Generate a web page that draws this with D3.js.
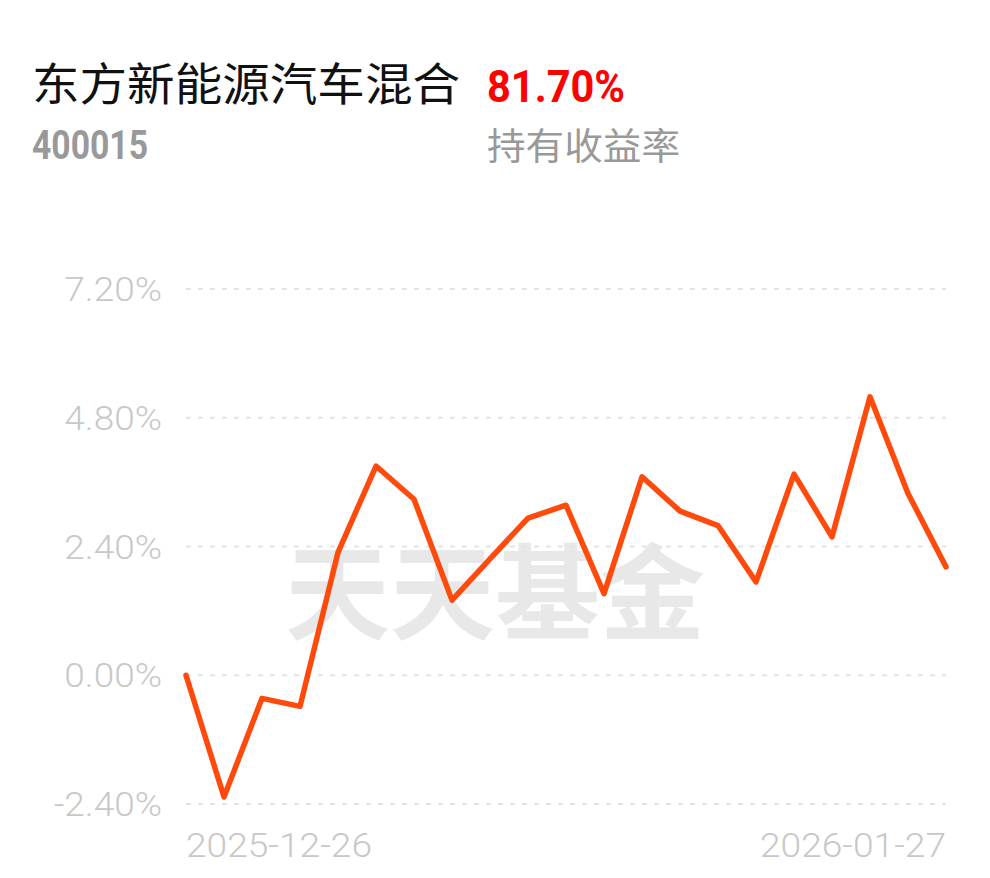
<!DOCTYPE html>
<html>
<head>
<meta charset="utf-8">
<script src="https://cdn.jsdelivr.net/npm/d3@7"></script>
<style>
  body { margin: 0; background: #fff; }
  svg { display: block; }
</style>
</head>
<body>
<div id="chart"></div>
<script>
// fund info
const fundName = "东方新能源汽车混合";
const fundCode = "400015";
const holdReturn = "81.70%";
const holdLabel = "持有收益率";

// trading days shown on the chart
const dates = ["2025-12-26", "2025-12-29", "2025-12-30", "2025-12-31", "2026-01-05",
  "2026-01-06", "2026-01-07", "2026-01-08", "2026-01-09", "2026-01-12",
  "2026-01-13", "2026-01-14", "2026-01-15", "2026-01-16", "2026-01-19",
  "2026-01-20", "2026-01-21", "2026-01-22", "2026-01-23", "2026-01-26", "2026-01-27"];

// cumulative return in %
const returns = [0.00, -2.27, -0.43, -0.58, 2.29, 3.90, 3.28, 1.40, 2.17, 2.93,
  3.17, 1.52, 3.70, 3.06, 2.79, 1.74, 3.75, 2.58, 5.19, 3.39, 2.02];

const yTicks = [-2.4, 0, 2.4, 4.8, 7.2];
const xLabels = ["2025-12-26", "2026-01-27"];

const width = 990, height = 878;
const margin = {top: 289, right: 44, bottom: 74, left: 186};

var svg = d3.select("#chart")
  .append("svg")
    .attr("width", width)
    .attr("height", height);

// header
svg.append("text")
  .attr("x", 32).attr("y", 101)
  .attr("textLength", 428).attr("lengthAdjust", "spacingAndGlyphs")
  .style("font-family", "Noto Sans CJK SC")
  .style("font-size", "45px")
  .style("fill", "#111")
  .text(fundName);

svg.append("text")
  .attr("x", 487).attr("y", 102)
  .attr("textLength", 138).attr("lengthAdjust", "spacingAndGlyphs")
  .style("font-family", "Roboto")
  .style("font-weight", 700)
  .style("font-size", "45px")
  .style("fill", "#f00")
  .text(holdReturn);

svg.append("text")
  .attr("x", 32).attr("y", 159)
  .attr("textLength", 116).attr("lengthAdjust", "spacingAndGlyphs")
  .style("font-family", "Roboto")
  .style("font-weight", 700)
  .style("font-size", "41px")
  .style("fill", "#999")
  .text(fundCode);

svg.append("text")
  .attr("x", 487).attr("y", 160)
  .attr("textLength", 193).attr("lengthAdjust", "spacingAndGlyphs")
  .style("font-family", "Noto Sans CJK SC")
  .style("font-size", "37px")
  .style("fill", "#999")
  .text(holdLabel);

// scales
var x = d3.scalePoint()
  .domain(dates)
  .range([margin.left, width - margin.right]);

var y = d3.scaleLinear()
  .domain([-2.4, 7.2])
  .range([height - margin.bottom, margin.top]);

// watermark
svg.append("text")
  .attr("x", 495).attr("y", 632)
  .attr("text-anchor", "middle")
  .attr("textLength", 420).attr("lengthAdjust", "spacingAndGlyphs")
  .style("font-family", "Noto Sans CJK SC")
  .style("font-weight", 700)
  .style("font-size", "104px")
  .style("fill", "#e8e8e8")
  .text("天天基金");

// grid lines
svg.append("g")
  .selectAll("line")
  .data(yTicks)
  .enter()
  .append("line")
    .attr("x1", margin.left)
    .attr("x2", width - margin.right)
    .attr("y1", function(d) { return y(d); })
    .attr("y2", function(d) { return y(d); })
    .attr("stroke", "#e4e4e4")
    .attr("stroke-width", 2)
    .attr("stroke-dasharray", "5,7");

// y labels (font is wider than Roboto, so stretch a bit)
svg.append("g")
  .selectAll("text")
  .data(yTicks)
  .enter()
  .append("text")
    .attr("x", 162)
    .attr("y", function(d) { return y(d) + 12; })
    .attr("text-anchor", "end")
    .style("font-family", "Roboto")
    .style("font-weight", 300)
    .style("font-size", "33px")
    .style("fill", "#c8c8c8")
    .text(function(d) { return d.toFixed(2) + "%"; })
    .each(function() {
      var len = this.getComputedTextLength();
      d3.select(this).attr("textLength", len * 1.12).attr("lengthAdjust", "spacingAndGlyphs");
    });

// x labels
svg.append("g")
  .selectAll("text")
  .data(xLabels)
  .enter()
  .append("text")
    .attr("x", function(d, i) { return i == 0 ? x(d) : x(d) - 186; })
    .attr("y", 857)
    .attr("textLength", 186).attr("lengthAdjust", "spacingAndGlyphs")
    .style("font-family", "Roboto")
    .style("font-weight", 300)
    .style("font-size", "33px")
    .style("fill", "#c8c8c8")
    .text(function(d) { return d; });

// the line
svg.append("path")
  .datum(returns)
  .attr("fill", "none")
  .attr("stroke", "#ff4a0c")
  .attr("stroke-width", 5.5)
  .attr("stroke-linejoin", "round")
  .attr("stroke-linecap", "round")
  .attr("d", d3.line()
    .x(function(d, i) { return x(dates[i]); })
    .y(function(d) { return y(d); })
  );
</script>
</body>
</html>
